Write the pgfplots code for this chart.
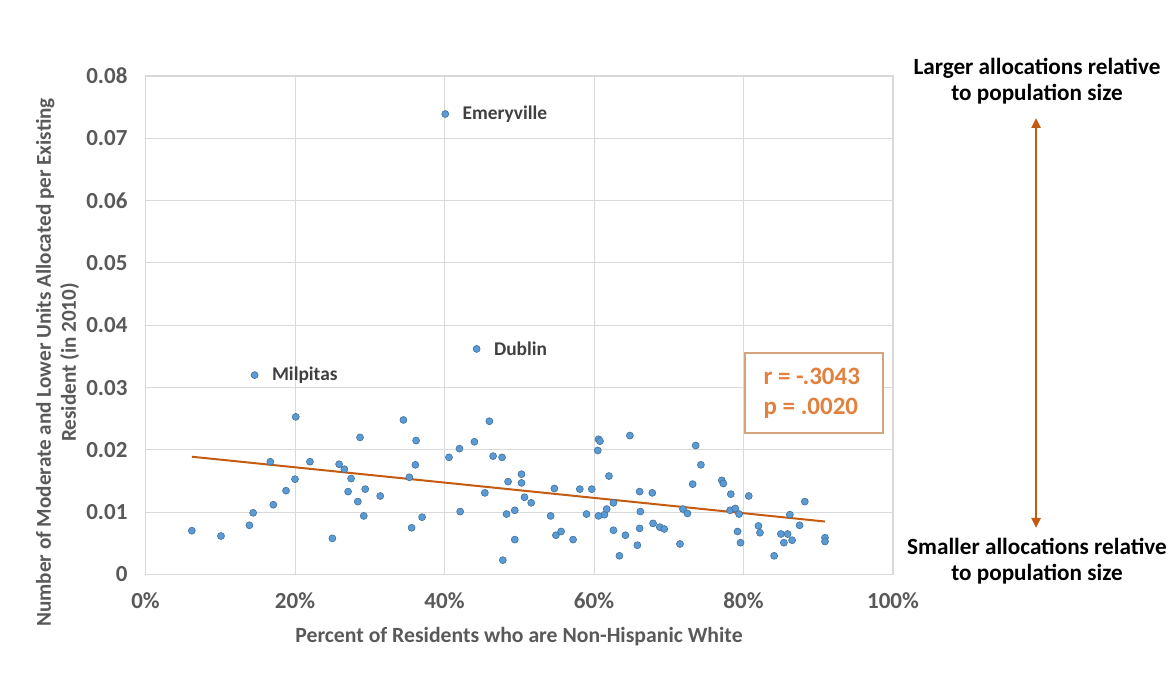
\documentclass[border=0pt]{standalone}
\usepackage{pgfplots}
\pgfplotsset{compat=1.18}
\usepackage{pgfplotstable}
\usetikzlibrary{arrows.meta}
\usepackage{fontspec}
\setmainfont{Carlito}
\definecolor{ptfill}{HTML}{5B9BD5}
\definecolor{ptedge}{HTML}{41719C}
\definecolor{trend}{HTML}{C55A11}
\definecolor{boxtext}{HTML}{E2813E}
\definecolor{boxedge}{HTML}{D4A57C}
\definecolor{gridc}{HTML}{D9D9D9}
\definecolor{labc}{HTML}{595959}
\definecolor{namec}{HTML}{404040}
\pgfplotstableread{
x y
6.2 0.00703
10.1 0.00618
13.9 0.0079
14.4 0.0099
17.1 0.0112
16.7 0.0181
18.8 0.01345
20.1 0.0253
20.0 0.0153
22.0 0.0181
25.0 0.0058
25.9 0.0177
26.6 0.0169
27.5 0.0154
27.1 0.0133
28.7 0.0220
29.4 0.0137
28.4 0.0117
29.2 0.0094
31.4 0.0126
34.5 0.0248
36.2 0.0215
36.1 0.0176
35.3 0.0156
37.0 0.0092
35.6 0.0075
40.6 0.0188
42.0 0.0202
42.1 0.0101
44.0 0.0213
46.0 0.0246
45.4 0.0131
46.5 0.0190
47.7 0.0188
47.8 0.0023
48.5 0.0149
48.3 0.0097
49.4 0.0103
49.4 0.0056
50.3 0.0161
50.3 0.0147
50.7 0.0124
51.6 0.0115
54.2 0.0094
54.7 0.0138
54.9 0.0063
55.6 0.0069
57.2 0.0056
58.1 0.0137
59.0 0.0097
59.7 0.0137
60.6 0.0217
60.8 0.0214
60.5 0.0199
60.6 0.0094
61.4 0.0096
61.7 0.0105
62.0 0.0158
62.6 0.0115
62.6 0.0071
63.4 0.0030
64.2 0.0063
64.8 0.0223
65.8 0.0047
66.1 0.0074
66.2 0.0101
66.1 0.0133
67.8 0.0131
67.9 0.0082
68.8 0.0076
69.4 0.0073
71.5 0.0049
71.9 0.0105
72.5 0.0098
73.2 0.0145
73.6 0.0207
74.3 0.0176
77.1 0.0151
77.3 0.0146
78.3 0.0129
78.2 0.0103
78.9 0.0106
79.4 0.0097
79.2 0.0069
79.6 0.0051
80.7 0.0126
82.0 0.0078
82.2 0.0067
84.1 0.0030
85.0 0.0065
85.4 0.0051
85.9 0.0065
86.2 0.0096
86.5 0.0055
87.5 0.0079
88.2 0.0117
90.9 0.0059
90.9 0.0053
40.1 0.0739
44.3 0.0362
14.6 0.0320
}\datatable
\begin{document}
\begin{tikzpicture}[font=\bfseries]
\useasboundingbox (-72.75pt,-49.25pt) rectangle (512.25pt,287.25pt);
\begin{axis}[
  at={(0pt,0pt)}, anchor=south west,
  scale only axis, width=373.75pt, height=249.25pt,
  xmin=0, xmax=100, ymin=0, ymax=0.08,
  scaled y ticks=false, scaled x ticks=false,
  xtick={0,20,40,60,80,100},
  xticklabels={0\%,20\%,40\%,60\%,80\%,100\%},
  ytick={0,0.01,0.02,0.03,0.04,0.05,0.06,0.07,0.08},
  yticklabels={0,0.01,0.02,0.03,0.04,0.05,0.06,0.07,0.08},
  major tick length=0pt,
  grid=major,
  grid style={gridc, line width=0.5pt},
  axis line style={gridc, line width=0.7pt},
  tick label style={labc, font=\fontsize{11.5}{13}\selectfont\bfseries},
  xticklabel style={yshift=-5.5pt},
  yticklabel style={xshift=-5.5pt},
  /pgf/number format/assume math mode=true,
  clip=false,
]
\addplot[only marks, mark=*, mark size=1.75pt, mark options={fill=ptfill, draw=ptedge, line width=0.3pt}] table[x=x, y=y] {\datatable};
\addplot[trend, line width=1pt, no marks] coordinates {(6.2,0.0189) (90.9,0.0085)};
\node[anchor=west, inner sep=0pt, namec, font=\fontsize{9.7}{11}\selectfont\bfseries] at (axis cs:40.1,0.0739) [xshift=8.5pt] {Emeryville};
\node[anchor=west, inner sep=0pt, namec, font=\fontsize{9.7}{11}\selectfont\bfseries] at (axis cs:44.3,0.0362) [xshift=8.5pt] {Dublin};
\node[anchor=west, inner sep=0pt, namec, font=\fontsize{9.7}{11}\selectfont\bfseries] at (axis cs:14.6,0.0320) [xshift=8.5pt] {Milpitas};
\end{axis}
% y label
\node[rotate=90, align=center, labc, font=\fontsize{10.6}{12.5}\selectfont\bfseries] at (-44pt,106pt)
  {Number of Moderate and Lower Units Allocated per Existing\\Resident (in 2010)};
% x label
\node[labc, font=\fontsize{10.85}{12}\selectfont\bfseries] at (186.75pt,-31.25pt)
  {Percent of Residents who are Non-Hispanic White};
% stats box
\draw[boxedge, line width=0.6pt, fill=white] (299.75pt,70.75pt) rectangle (368.75pt,110.75pt);
\node[anchor=west, align=left, boxtext, font=\fontsize{12.5}{15}\selectfont\bfseries] at (305.5pt,90.75pt)
  {r = -.3043\\p = .0020};
% right annotation
\node[align=center, black, font=\fontsize{11.6}{13}\selectfont\bfseries] at (445.75pt,246.75pt)
  {Larger allocations relative\\to population size};
\node[align=center, black, font=\fontsize{11.6}{13}\selectfont\bfseries] at (445.75pt,6.75pt)
  {Smaller allocations relative\\to population size};
\draw[trend, line width=1.2pt, -{Triangle[length=5pt,width=4.5pt]}] (445.25pt,125pt) -- (445.25pt,228.25pt);
\draw[trend, line width=1.2pt, -{Triangle[length=5pt,width=4.5pt]}] (445.25pt,125pt) -- (445.25pt,23.25pt);
\end{tikzpicture}
\end{document}
